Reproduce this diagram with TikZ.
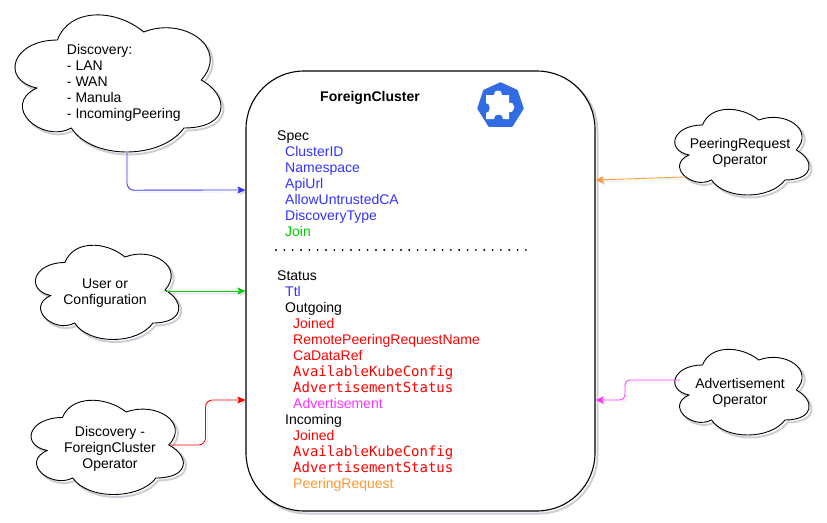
\documentclass[tikz,border=0pt]{standalone}
\usepackage{fontspec}
\setmainfont{Liberation Sans}
\setmonofont{DejaVu Sans Mono}
\usetikzlibrary{arrows.meta,positioning}
\definecolor{specblue}{HTML}{3333FF}
\definecolor{joingreen}{HTML}{00CC00}
\definecolor{statusred}{HTML}{FF0000}
\definecolor{advmagenta}{HTML}{FF33FF}
\definecolor{peerorange}{HTML}{FF9933}
\definecolor{kubeblue}{HTML}{326CE5}
\definecolor{softshadow}{HTML}{5A5A78}
\tikzset{
  cloudline/.style={draw=black, fill=white, line width=0.9pt},
  cloudshade/.style={draw=softshadow, line width=2pt, opacity=0.3},
  lbl/.style={align=center, font=\fontsize{14}{16}\selectfont, inner sep=0pt},
  fields/.style={align=left, anchor=north west, font=\fontsize{14}{16}\selectfont, inner sep=0pt},
  link/.style={->, line width=0.85pt, rounded corners=7pt,
    preaction={draw=softshadow, opacity=0.18, transform canvas={shift={(2pt,-2pt)}}}},
}
% unit cloud outline, scaled by the scope round it
\def\cloudoutline{(.25,.25) .. controls (.05,.25) and (0,.5) .. (.16,.55)
  .. controls (0,.66) and (.18,.9) .. (.31,.8)
  .. controls (.4,1) and (.7,1) .. (.8,.8)
  .. controls (1,.8) and (1,.6) .. (.875,.5)
  .. controls (1,.3) and (.8,.1) .. (.625,.2)
  .. controls (.5,.05) and (.3,.05) .. (.25,.25) -- cycle}
\newcommand{\cloudat}[5]{%
  \begin{scope}[shift={(#2+2.5,#3+2.5)}, x=#4pt, y=-#5pt]
    \draw[cloudshade] \cloudoutline;
  \end{scope}
  \begin{scope}[shift={(#2,#3)}, x=#4pt, y=-#5pt]
    \draw[cloudline] \cloudoutline;
    \node[inner sep=0pt, minimum width=#4pt, minimum height=#5pt] (#1) at (.5,.5) {};
  \end{scope}}
\newcommand{\ind}[1]{\hspace*{#1pt}}
\begin{document}
\begin{tikzpicture}[x=1pt, y=-1pt, >={Stealth[length=8pt,width=7pt,inset=1.5pt]}]
  \useasboundingbox (0,0) rectangle (827,522);
  % main box
  \draw[softshadow, line width=2pt, opacity=0.3, rounded corners=58pt] (248.5,73.5) rectangle (597.5,513.5);
  \node[draw=black, fill=white, line width=1.1pt, rounded corners=58pt, minimum width=349pt, minimum height=440pt, inner sep=0pt] (cluster) at (420.5,291) {};

  % clouds
  \cloudat{discovery}{0}{0}{230}{160}
  \cloudat{user}{25}{235}{160}{110}
  \cloudat{operator}{20}{390}{170}{110}
  \cloudat{peering}{665}{100}{150}{100}
  \cloudat{advert}{665}{340}{150}{100}

  \node[lbl, align=left] (discoveryText) at (123.8,83) {Discovery:\\- LAN\\- WAN\\- Manula\\- IncomingPeering};
  \node[lbl] (userText) at (105,293) {User or\\Configuration};
  \node[lbl] (operatorText) at (110,448.5) {Discovery -\\ForeignCluster\\Operator};
  \node[lbl] (peeringText) at (740,153) {PeeringRequest\\Operator};
  \node[lbl] (advertText) at (740,393) {Advertisement\\Operator};

  % box contents
  \node[lbl, font=\fontsize{14}{16}\selectfont\bfseries] (title) at (370,98) {ForeignCluster};
  \node[fields] (spec) at (277,131) {Spec\\
    \ind{8}\textcolor{specblue}{ClusterID}\\
    \ind{8}\textcolor{specblue}{Namespace}\\
    \ind{8}\textcolor{specblue}{ApiUrl}\\
    \ind{8}\textcolor{specblue}{AllowUntrustedCA}\\
    \ind{8}\textcolor{specblue}{DiscoveryType}\\
    \ind{8}\textcolor{joingreen}{Join}};
  \node[fields] (status) at (277,271) {Status\\
    \ind{8}\textcolor{specblue}{Ttl}\\
    \ind{8}Outgoing\\
    \ind{16}\textcolor{statusred}{Joined}\\
    \ind{16}\textcolor{statusred}{RemotePeeringRequestName}\\
    \ind{16}\textcolor{statusred}{CaDataRef}\\
    \ind{16}\textcolor{statusred}{\texttt{AvailableKubeConfig}}\\
    \ind{16}\textcolor{statusred}{\texttt{AdvertisementStatus}}\\
    \ind{16}\textcolor{advmagenta}{Advertisement}\\
    \ind{8}Incoming\\
    \ind{16}\textcolor{statusred}{Joined}\\
    \ind{16}\textcolor{statusred}{\texttt{AvailableKubeConfig}}\\
    \ind{16}\textcolor{statusred}{\texttt{AdvertisementStatus}}\\
    \ind{16}\textcolor{peerorange}{PeeringRequest}};

  % dotted separator
  \coordinate (dotsL) at (276,250);
  \coordinate (dotsR) at (527,250);
  \draw[line width=2.1pt, line cap=round, dash pattern=on 0pt off 8.33pt] (dotsL) -- (dotsR);

  % puzzle icon
  \fill[kubeblue, draw=kubeblue, line width=1.5pt, line join=round]
    (500.5,83) -- (517,90.5) -- (523,108.5) -- (512,126) -- (489,126) -- (478,108.5) -- (484,90.5) -- cycle;
  \fill[white] (486,95) -- (494,95) .. controls (493,89) and (503,89) .. (502,95)
    -- (509,95) -- (509,103) .. controls (516,101) and (516,113) .. (509,112)
    -- (509,119) -- (503,119) .. controls (504,113) and (493,113) .. (494,119)
    -- (486,119) -- (486,113) .. controls (491,113) and (491,103) .. (486,103) -- cycle;

  % connectors
  \draw[link, specblue] ([xshift=12pt,yshift=7pt]discovery.south) -- ++(0,37) -- ([yshift=101pt]cluster.west);
  \draw[link, joingreen] (user.east |- cluster.west) ++(-19,0) -- (cluster.west);
  \draw[link, statusred] ([xshift=-20pt]operator.east) -- (205.5,445) -- (205.5,400) -- ([yshift=-109pt]cluster.west);
  \draw[link, peerorange, rounded corners=0pt] ([xshift=20pt,yshift=-27pt]peering.west) -- ([yshift=111pt]cluster.east);
  \draw[link, advmagenta, rounded corners=5pt] ([xshift=15pt,yshift=10pt]advert.west) -- (625,380) -- (625,400) -- ([yshift=-109pt]cluster.east);
\end{tikzpicture}
\end{document}
